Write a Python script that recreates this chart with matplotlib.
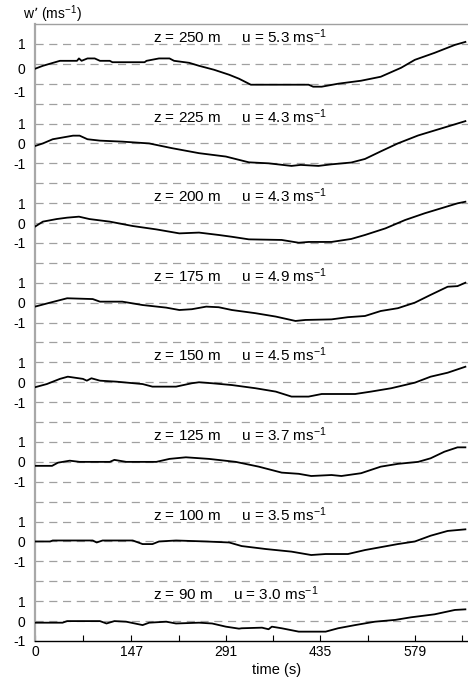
import matplotlib
matplotlib.use('Agg')
import matplotlib.pyplot as plt
import numpy as np

plt.rcParams['font.family'] = ['Liberation Sans', 'DejaVu Sans']
plt.rcParams['mathtext.default'] = 'regular'

# heights (m) and mean wind speed (m/s) of each trace, top to bottom
heights = [250, 225, 200, 175, 150, 125, 100, 90]
speeds = [5.3, 4.3, 4.3, 4.9, 4.5, 3.7, 3.5, 3.0]

# w' traces: time (s) and w' (m/s)
t250 = [0, 12, 38, 64, 67, 71, 80, 91, 99, 114, 118, 167, 170, 189, 205, 212, 235, 250, 273, 296,
        311, 329, 417, 424, 437, 462, 497, 527, 558, 579, 609, 640, 656]
w250 = [-0.25, -0.1, 0.15, 0.15, 0.27, 0.15, 0.27, 0.27, 0.15, 0.15, 0.08, 0.08, 0.15, 0.27, 0.27,
        0.15, 0.05, -0.1, -0.3, -0.55, -0.75, -1.05, -1.05, -1.15, -1.15, -1.0, -0.85, -0.65, -0.2,
        0.2, 0.55, 0.95, 1.1]

t225 = [0, 12, 27, 58, 68, 80, 99, 133, 174, 209, 250, 291, 326, 356, 391, 405, 432, 452, 482, 503,
        527, 553, 584, 614, 644, 656]
w225 = [-0.13, 0, 0.21, 0.39, 0.39, 0.21, 0.14, 0.09, 0.0, -0.24, -0.49, -0.66, -0.95, -1.0, -1.13,
        -1.08, -1.13, -1.05, -0.96, -0.78, -0.4, 0.0, 0.4, 0.7, 1.0, 1.12]

t200 = [0, 12, 33, 49, 67, 83, 114, 149, 185, 220, 250, 280, 300, 326, 376, 402, 417, 452, 482, 503,
        534, 564, 594, 624, 644, 656]
w200 = [-0.18, 0.07, 0.2, 0.27, 0.32, 0.2, 0.07, -0.15, -0.32, -0.52, -0.48, -0.6, -0.69, -0.82,
        -0.85, -0.99, -0.95, -0.95, -0.8, -0.6, -0.27, 0.15, 0.49, 0.79, 0.99, 1.07]

t175 = [0, 23, 49, 88, 99, 133, 164, 200, 220, 239, 261, 280, 300, 336, 367, 397, 412, 452, 477, 503,
        527, 553, 579, 603, 629, 644, 656]
w175 = [-0.2, 0, 0.22, 0.18, 0.05, 0.05, -0.12, -0.25, -0.37, -0.33, -0.2, -0.23, -0.37, -0.53,
        -0.7, -0.92, -0.87, -0.84, -0.73, -0.67, -0.42, -0.28, 0, 0.39, 0.8, 0.83, 1.0]

t150 = [0, 18, 38, 50, 73, 79, 86, 99, 124, 164, 179, 215, 239, 250, 270, 300, 336, 367, 391, 417,
        437, 488, 512, 543, 579, 603, 629, 656]
w150 = [-0.25, -0.09, 0.17, 0.28, 0.17, 0.08, 0.2, 0.08, 0.03, -0.09, -0.22, -0.22, -0.05, 0, -0.05,
        -0.14, -0.3, -0.47, -0.72, -0.72, -0.59, -0.59, -0.47, -0.3, -0.02, 0.28, 0.48, 0.78]

t125 = [0, 26, 35, 53, 68, 114, 121, 139, 185, 205, 230, 265, 306, 341, 376, 402, 421, 452, 467, 497,
        527, 553, 584, 603, 624, 644, 656]
w125 = [-0.2, -0.2, -0.04, 0.06, 0, 0, 0.1, 0, 0, 0.15, 0.23, 0.15, 0, -0.24, -0.54, -0.6, -0.71,
        -0.66, -0.71, -0.57, -0.24, -0.1, 0, 0.18, 0.51, 0.73, 0.73]

t100 = [0, 23, 27, 88, 94, 103, 149, 164, 179, 189, 215, 261, 296, 315, 352, 391, 421, 443, 477, 503,
        553, 579, 603, 629, 656]
w100 = [0, 0, 0.05, 0.05, -0.05, 0.05, 0.05, -0.13, -0.13, 0, 0.05, 0, -0.05, -0.23, -0.38, -0.51,
        -0.68, -0.63, -0.63, -0.43, -0.13, 0, 0.29, 0.53, 0.61]

t90 = [0, 42, 49, 99, 109, 121, 139, 164, 174, 200, 215, 250, 270, 291, 311, 315, 346, 356, 361, 376,
       402, 443, 462, 488, 518, 549, 573, 609, 640, 656]
w90 = [-0.08, -0.08, 0, 0, -0.12, 0, -0.03, -0.2, -0.08, -0.03, -0.12, -0.08, -0.12, -0.28, -0.38,
       -0.36, -0.33, -0.41, -0.28, -0.36, -0.53, -0.53, -0.36, -0.2, -0.03, 0.06, 0.19, 0.34, 0.56, 0.59]

times = [t250, t225, t200, t175, t150, t125, t100, t90]
values = [w250, w225, w200, w175, w150, w125, w100, w90]

xticks = [0, 147, 291, 435, 579]
xminor = [73, 219, 363, 507, 651]

fig = plt.figure(figsize=(4.68, 6.81), dpi=100)
ax = fig.add_axes([35/468, 1 - 641/681, 1 - 35/468, (641 - 24)/681])

n = len(heights)
step = 4
ytick_pos = []
ytick_lab = []
for i in range(n):
    off = step * (n - 1 - i)
    ax.plot(times[i], np.array(values[i]) + off, color='black', lw=1.3, zorder=3)
    ax.text(180, off + 1.05, 'z = %d m     u = %.1f ms$^{-1}$' % (heights[i], speeds[i]),
            fontsize=11, va='baseline', ha='left', zorder=4)
    if i == 0:
        # labels of the top trace sit a little low in the original
        ytick_pos += [off + 1, off - 0.25, off - 1.4]
    else:
        ytick_pos += [off + 1, off, off - 1]
    ytick_lab += ['1', '0', '-1']

# dashed reference lines at every unit
for y in range(0, step * (n - 1) + 2):
    ax.axhline(y, color='#a0a0a0', lw=0.9, dashes=(6.5, 4.5), zorder=1)

ax.set_xlim(0, 660)
ax.set_ylim(-1, step * (n - 1) + 2)
ax.set_yticks(ytick_pos)
ax.set_yticklabels(ytick_lab)
ax.set_xticks(xticks)
ax.set_xticks(xminor, minor=True)
ax.set_xticklabels([str(v) for v in xticks])
ax.tick_params(axis='y', length=0, pad=7, labelsize=10)
ax.tick_params(axis='x', which='both', direction='in', length=4, width=0.8, pad=3, labelsize=10)

ax.spines['left'].set_color('#a8a8a8')
ax.spines['left'].set_linewidth(1.6)
ax.spines['top'].set_color('#a0a0a0')
ax.spines['top'].set_linewidth(1.0)
ax.spines['right'].set_visible(False)
ax.spines['bottom'].set_color('black')
ax.spines['bottom'].set_linewidth(1.0)

fig.text(23/468, 1 - 19/681, 'w\u2019 (ms$^{-1}$)', fontsize=10, va='baseline', ha='left')
fig.text(276.5/468, 1 - 670/681, 'time (s)', fontsize=10.5, va='center', ha='center')

fig.savefig('out.png', dpi=100)
